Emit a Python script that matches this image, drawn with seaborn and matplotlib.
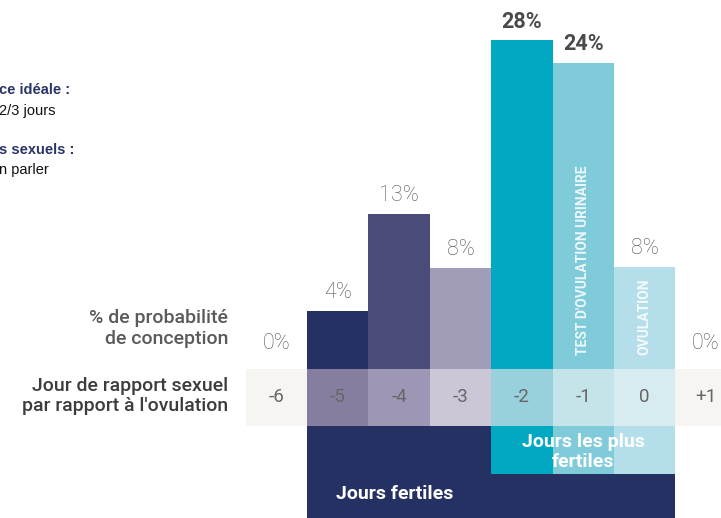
import matplotlib
matplotlib.use("Agg")
import matplotlib.pyplot as plt
import seaborn as sns
import pandas as pd

# Data read from the infographic
jours = ["-6", "-5", "-4", "-3", "-2", "-1", "0", "+1"]
probabilite = [0, 4, 13, 8, 28, 24, 8, 0]          # % printed above each bar
hauteur_barres = [0, 4.9, 13.2, 8.6, 28, 26.1, 8.7, 0]  # drawn height (in units of the 28% bar)
couleurs_barres = ["#253162", "#253162", "#4a4b78", "#a19cb8",
                   "#00a8c2", "#80cbda", "#b4dfea", "#b4dfea"]
couleurs_cases = ["#f6f5f2", "#857e9f", "#9d97b5", "#cbc7d6",
                  "#98d0db", "#c4e4ea", "#d6ecf0", "#f6f5f2"]
jours_fertiles = ["-5", "-4", "-3", "-2", "-1", "0"]
jours_plus_fertiles = ["-2", "-1", "0"]
libelles_verticaux = {"-1": "TEST D'OVULATION URINAIRE", "0": "OVULATION"}

W, H = 721, 518
PX = 11.72          # pixels per height unit
BASE = 368.5        # pixel row of the baseline

sns.set_theme(style="white")
plt.rcParams["font.family"] = ["Roboto", "DejaVu Sans"]

fig = plt.figure(figsize=(W / 100, H / 100), dpi=100)
ax = fig.add_axes([0, 0, 1, 1])

df = pd.DataFrame({"jour": jours, "hauteur": hauteur_barres})
sns.barplot(data=df, x="jour", y="hauteur", hue="jour", order=jours,
            palette=couleurs_barres, width=1.0, legend=False,
            linewidth=0, saturation=1, ax=ax)

ax.set_xlim(-4.5, 7.243)
ax.set_ylim(-(H - BASE) / PX, BASE / PX)
ax.set_axis_off()

def y_px(py):
    return (BASE - py) / PX

pos = {j: i for i, j in enumerate(jours)}

# row of day numbers
bande_bas = y_px(425.7)
for i, j in enumerate(jours):
    ax.bar(i, -bande_bas, bottom=bande_bas, width=1.0,
           color=couleurs_cases[i], linewidth=0)
    ax.text(i, y_px(397), j, ha="center", va="center",
            fontsize=13.5, color="#666666")

# "Jours fertiles" block
xs = [pos[j] for j in jours_fertiles]
ax.bar((min(xs) + max(xs)) / 2, bande_bas - ax.get_ylim()[0],
       bottom=ax.get_ylim()[0], width=max(xs) - min(xs) + 1,
       color="#253162", linewidth=0)
ax.text(min(xs) - 0.02, y_px(494), "Jours fertiles", ha="left", va="center",
        fontsize=14, fontweight="bold", color="white")

# "Jours les plus fertiles" block
xp = [pos[j] for j in jours_plus_fertiles]
for j in jours_plus_fertiles:
    i = pos[j]
    ax.bar(i, bande_bas - y_px(474), bottom=y_px(474), width=1.0,
           color=couleurs_barres[i], linewidth=0)
ax.text((min(xp) + max(xp)) / 2, y_px(452), "Jours les plus\nfertiles",
        ha="center", va="center", fontsize=14, fontweight="bold",
        color="white", linespacing=1.1)

# percentages
for i, (v, h) in enumerate(zip(probabilite, hauteur_barres)):
    gros = v >= 20
    dy = 1.55 if h > 0 else 2.1
    ax.text(i, h + dy, f"{v}%", ha="center", va="center",
            fontsize=15.5, color="#4a4a4a" if gros else "#555555",
            fontweight="bold" if gros else "light")

# vertical labels inside bars
for j, txt in libelles_verticaux.items():
    ax.text(pos[j], y_px(355), txt, rotation=90, ha="center", va="bottom",
            fontsize=10, fontweight="bold", color="white", alpha=0.85)

# left labels
fig.text(228 / W, 1 - 328.5 / H, "% de probabilité\nde conception",
         ha="right", va="center", fontsize=14, fontweight="medium",
         color="#5a5a5a", linespacing=1.2)
fig.text(228 / W, 1 - 396 / H, "Jour de rapport sexuel\npar rapport à l'ovulation",
         ha="right", va="center", fontsize=14, fontweight="medium",
         color="#3c3c3c", linespacing=1.2)

# cropped notes at top left
notes = [("ce idéale :", 90, "#2b3467", "bold"),
         ("2/3 jours", 111, "#111111", "normal"),
         ("s sexuels :", 150, "#2b3467", "bold"),
         ("n parler", 170, "#111111", "normal")]
for txt, py, c, w in notes:
    fig.text(-1 / W, 1 - py / H, txt, ha="left", va="center", fontsize=10.5,
             color=c, fontweight=w, family=["Liberation Sans", "DejaVu Sans"])

fig.savefig("out.png", dpi=100)
